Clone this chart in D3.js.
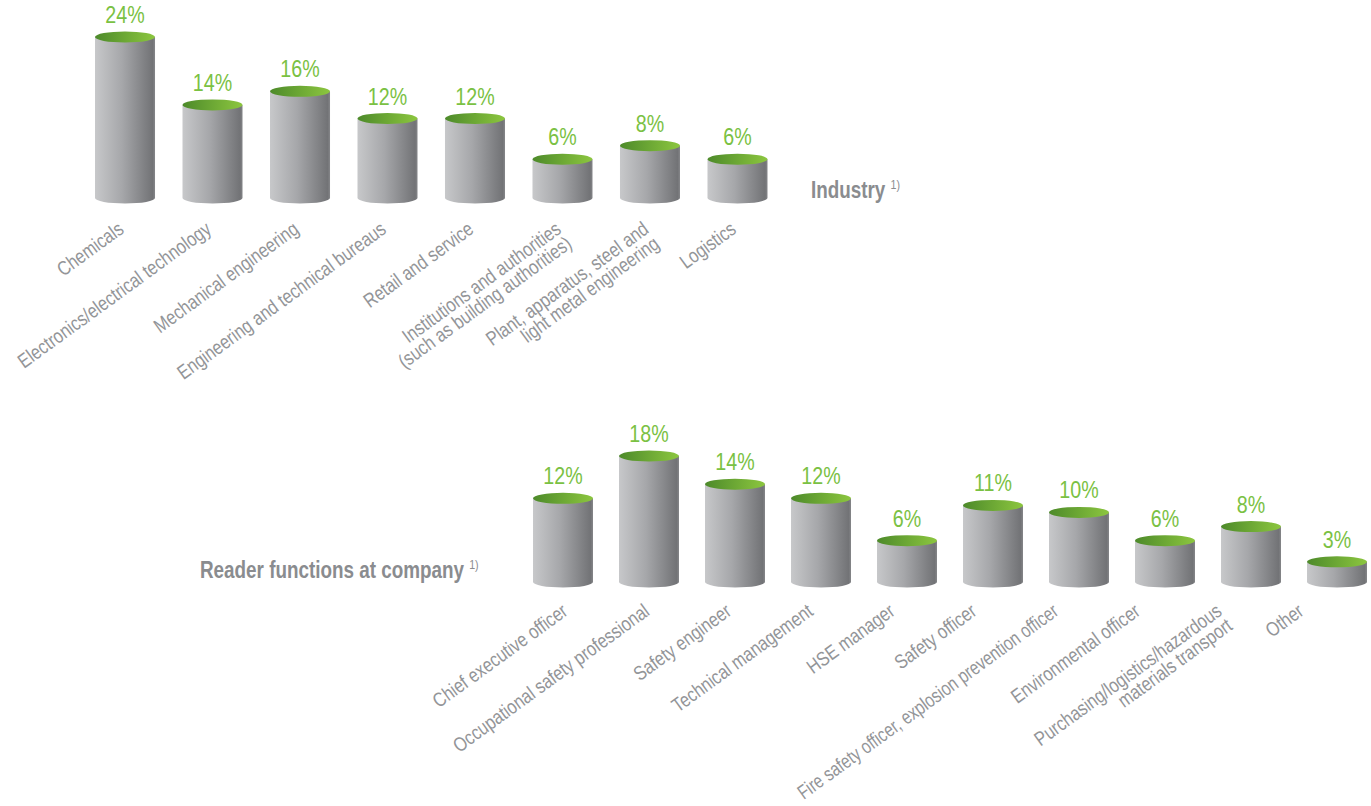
<!DOCTYPE html>
<html>
<head>
<meta charset="utf-8">
<script src="https://cdn.jsdelivr.net/npm/d3@7"></script>
<style>
  body { margin: 0; background: #fff; }
  text { font-family: "Liberation Sans", Arial, sans-serif; }
</style>
</head>
<body>
<div id="chart"></div>
<script>
// Industry (upper chart)
const industries = [
  "Chemicals",
  "Electronics/electrical technology",
  "Mechanical engineering",
  "Engineering and technical bureaus",
  "Retail and service",
  "Institutions and authorities\n(such as building authorities)",
  "Plant, apparatus, steel and\nlight metal engineering",
  "Logistics"
];
const industryValues = [24, 14, 16, 12, 12, 6, 8, 6];

// Reader functions (lower chart)
const functions = [
  "Chief executive officer",
  "Occupational safety professional",
  "Safety engineer",
  "Technical management",
  "HSE manager",
  "Safety officer",
  "Fire safety officer, explosion prevention officer",
  "Environmental officer",
  "Purchasing/logistics/hazardous\nmaterials transport",
  "Other"
];
const functionValues = [12, 18, 14, 12, 6, 11, 10, 6, 8, 3];

const width = 1371, height = 806;
const ry = 5.5;      // ellipse radius of cylinder caps
const angle = -36;   // label rotation
const narrow = 0.82; // squeeze text to look condensed
const bottomLimit = 800; // lowest baseline point a rotated label may reach

const svg = d3.select("#chart")
  .append("svg")
  .attr("width", width)
  .attr("height", height);

const defs = svg.append("defs");
const bodyGrad = defs.append("linearGradient").attr("id", "bodyGrad")
  .attr("x1", 0).attr("x2", 1).attr("y1", 0).attr("y2", 0);
bodyGrad.append("stop").attr("offset", "0%").attr("stop-color", "#c7c8ca");
bodyGrad.append("stop").attr("offset", "45%").attr("stop-color", "#a6a7aa");
bodyGrad.append("stop").attr("offset", "96%").attr("stop-color", "#727376");
bodyGrad.append("stop").attr("offset", "100%").attr("stop-color", "#858689");

const capGrad = defs.append("linearGradient").attr("id", "capGrad")
  .attr("x1", 0).attr("x2", 1).attr("y1", 0).attr("y2", 0);
capGrad.append("stop").attr("offset", "0%").attr("stop-color", "#4d8a2a");
capGrad.append("stop").attr("offset", "100%").attr("stop-color", "#8cc63f");

function drawCylinders(g, names, values, x, y, baseY, labelX, labelY) {
  const w = x.bandwidth();
  const rx = w / 2;

  // cylinder bodies
  g.selectAll("path.body")
    .data(values)
    .join("path")
    .attr("class", "body")
    .attr("fill", "url(#bodyGrad)")
    .attr("d", (d, i) => {
      const x0 = x(names[i]), x1 = x0 + w, top = y(d);
      return `M${x0},${top} L${x0},${baseY} A${rx},${ry} 0 0 0 ${x1},${baseY} L${x1},${top} Z`;
    });

  // green top
  g.selectAll("ellipse.cap")
    .data(values)
    .join("ellipse")
    .attr("class", "cap")
    .attr("cx", (d, i) => x(names[i]) + rx)
    .attr("cy", d => y(d))
    .attr("rx", rx)
    .attr("ry", ry)
    .attr("fill", "url(#capGrad)");

  // percentage labels
  g.selectAll("text.val")
    .data(values)
    .join("text")
    .attr("class", "val")
    .attr("transform", (d, i) => `translate(${x(names[i]) + rx},${y(d) - 14}) scale(${narrow},1)`)
    .attr("text-anchor", "middle")
    .attr("fill", "#7ac143")
    .style("font-size", "24px")
    .text(d => d + "%");

  // rotated category labels
  const lbl = g.selectAll("text.cat")
    .data(names)
    .join("text")
    .attr("class", "cat")
    .attr("transform", d => `translate(${labelX(d)},${labelY}) rotate(${angle}) scale(${narrow},1)`)
    .attr("text-anchor", "end")
    .attr("fill", "#939598")
    .style("font-size", "20px");
  lbl.selectAll("tspan")
    .data(d => d.split("\n"))
    .join("tspan")
    .attr("x", 0)
    .attr("dy", (d, i) => i === 0 ? 0 : "0.9em")
    .text(d => d);

  // squeeze a label that would run off the bottom of the page
  const sin = Math.sin(-angle * Math.PI / 180);
  lbl.each(function () {
    const t = d3.select(this);
    const len = this.getComputedTextLength() * narrow;
    const maxLen = (bottomLimit - labelY) / sin;
    if (t.selectAll("tspan").size() === 1 && len > maxLen) {
      t.select("tspan")
        .attr("textLength", maxLen / narrow)
        .attr("lengthAdjust", "spacingAndGlyphs");
    }
  });
}

// upper chart
const xTop = d3.scaleBand()
  .domain(industries)
  .range([95, 767.5])
  .paddingInner(0.314)
  .paddingOuter(0);
const yTop = d3.scaleLinear()
  .domain([0, 24])
  .range([200, 37]);
drawCylinders(svg.append("g"), industries, industryValues, xTop, yTop, 198,
  d => xTop(d) + xTop.bandwidth() / 2, 232);

// lower chart
const xBot = d3.scaleBand()
  .domain(functions)
  .range([533, 1367])
  .paddingInner(0.3023)
  .paddingOuter(0);
const yBot = d3.scaleLinear()
  .domain([0, 18])
  .range([583, 456]);
const xBotLabel = d3.scalePoint()
  .domain(functions)
  .range([569, 1305]);
drawCylinders(svg.append("g"), functions, functionValues, xBot, yBot, 582,
  d => xBotLabel(d), 614);

// titles
function title(x, y, txt) {
  const t = svg.append("text")
    .attr("transform", `translate(${x},${y}) scale(${narrow},1)`)
    .attr("fill", "#8a8c8f")
    .style("font-size", "23px")
    .style("font-weight", "bold")
    .text(txt + " ");
  t.append("tspan")
    .attr("dy", -9)
    .style("font-size", "13px")
    .style("font-weight", "normal")
    .text("1)");
}
title(811, 198, "Industry");
title(200, 578, "Reader functions at company");
</script>
</body>
</html>
